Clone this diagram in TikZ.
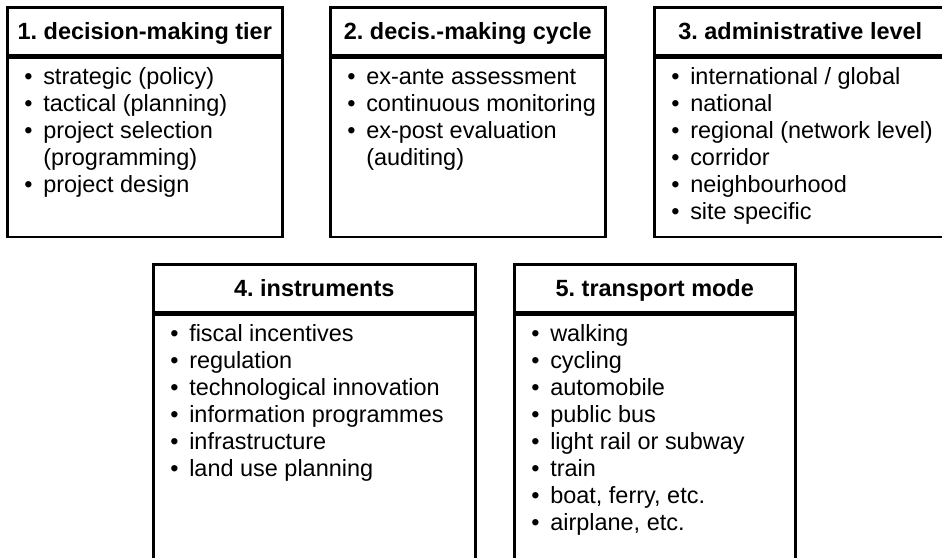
\documentclass[tikz,border=0pt]{standalone}
\usepackage{fontspec}
\setmainfont{Liberation Sans}
\usetikzlibrary{positioning}
\frenchspacing
\newlength{\bulw}
\setlength{\bulw}{14.25pt}
\newcommand{\bl}{\strut\makebox[\bulw][l]{\textbullet}}
\newcommand{\cont}{\strut\hspace*{\bulw}}

\begin{document}
\begin{tikzpicture}[x=0.75pt, y=-0.75pt, line width=1.9pt,
  head/.style={draw, anchor=north west, inner sep=0pt, minimum height=36pt, text height=12.6pt, text depth=0pt, font=\fontsize{17.6}{20.2}\selectfont\bfseries},
  body/.style={draw, inner sep=0pt},
  items/.style={anchor=north west, inner sep=0pt, align=left, font=\fontsize{17.6}{20.2}\selectfont}]
\path[use as bounding box, clip] (0,0) rectangle (942,557);
% top row
\node  (h1)[head, minimum width=206.25pt] at (6,6) {1. decision-making tier};
\node  (b1)[body, minimum width=206.25pt, minimum height=134.25pt]  [below = 0pt of h1] {};
\node  (h2)[head, minimum width=206.25pt] at (329,6) {2. decis.-making cycle};
\node  (b2)[body, minimum width=206.25pt, minimum height=134.25pt]  [below = 0pt of h2] {};
\node  (h3)[head, minimum width=219pt] at (653,6) {3. administrative level};
\node  (b3)[body, minimum width=219pt, minimum height=134.25pt]  [below = 0pt of h3] {};
% bottom row
\node  (h4)[head, minimum width=241.5pt] at (152,263) {4. instruments};
\node  (b4)[body, minimum width=241.5pt, minimum height=225pt]  [below = 0pt of h4] {};
\node  (h5)[head, minimum width=210.75pt] at (513,263) {5. transport mode};
\node  (b5)[body, minimum width=210.75pt, minimum height=225pt]  [below = 0pt of h5] {};
% lists
\node  (l1)[items] at ([shift={(17,8)}]b1.north west)
  {\bl strategic (policy)\\ \bl tactical (planning)\\ \bl project selection\\ \cont(programming)\\ \bl project design};
\node  (l2)[items] at ([shift={(17,8)}]b2.north west)
  {\bl ex-ante assessment\\ \bl continuous monitoring\\ \bl ex-post evaluation\\ \cont(auditing)};
\node  (l3)[items] at ([shift={(17,8)}]b3.north west)
  {\bl international / global\\ \bl national\\ \bl regional (network level)\\ \bl corridor\\ \bl neighbourhood\\ \bl site specific};
\node  (l4)[items] at ([shift={(17,8)}]b4.north west)
  {\bl fiscal incentives\\ \bl regulation\\ \bl technological innovation\\ \bl information programmes\\ \bl infrastructure\\ \bl land use planning};
\node  (l5)[items] at ([shift={(17,8)}]b5.north west)
  {\bl walking\\ \bl cycling\\ \bl automobile\\ \bl public bus\\ \bl light rail or subway\\ \bl train\\ \bl boat, ferry, etc.\\ \bl airplane, etc.};
\end{tikzpicture}
\end{document}
